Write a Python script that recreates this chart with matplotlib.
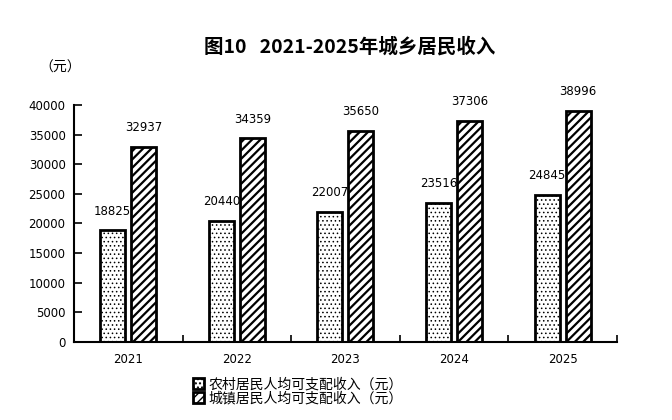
import matplotlib
matplotlib.use("Agg")
import matplotlib.pyplot as plt
import numpy as np

years = ["2021", "2022", "2023", "2024", "2025"]
rural = [18825, 20440, 22007, 23516, 24845]
urban = [32937, 34359, 35650, 37306, 38996]
legend_labels = ["农村居民人均可支配收入（元）", "城镇居民人均可支配收入（元）"]
title = "图10   2021-2025年城乡居民收入"
unit = "（元）"
yticks = list(range(0, 40001, 5000))

plt.rcParams['font.family'] = ['Noto Sans CJK SC', 'DejaVu Sans']

fig = plt.figure(figsize=(6.72, 4.2), dpi=100)
ax = fig.add_axes([0.110, 0.186, 0.808, 0.564])

x = np.arange(len(years))
w = 0.23
off = 0.143
with plt.rc_context({'hatch.linewidth': 0.6}):
    b1 = ax.bar(x - off, rural, w, facecolor='white', edgecolor='black', linewidth=2,
                hatch='....', label=legend_labels[0])
with plt.rc_context({'hatch.linewidth': 1.6}):
    b2 = ax.bar(x + off, urban, w, facecolor='white', edgecolor='black', linewidth=2,
                hatch='////', label=legend_labels[1])

for xi, v in zip(x - off, rural):
    ax.annotate(str(v), (xi, v), xytext=(0, 9), textcoords='offset points', ha='center',
                va='bottom', fontsize=8.5, family='DejaVu Sans')
for xi, v in zip(x + off, urban):
    ax.annotate(str(v), (xi, v), xytext=(0, 9), textcoords='offset points', ha='center',
                va='bottom', fontsize=8.5, family='DejaVu Sans')

ax.set_xlim(-0.5, len(years) - 0.5)
ax.set_ylim(0, 40000)
ax.set_yticks(yticks)
ax.set_yticklabels([str(t) for t in yticks], fontsize=8.5, family='DejaVu Sans')
ax.set_xticks(np.arange(-0.5, len(years), 1.0))
ax.set_xticklabels([])
ax.set_xticks(x, minor=True)
ax.set_xticklabels(years, minor=True, fontsize=8.5, family='DejaVu Sans')
ax.tick_params(axis='x', which='minor', length=0, pad=8)
ax.tick_params(axis='x', which='major', direction='in', length=5, width=1.2)
ax.tick_params(axis='y', direction='in', length=6, width=1.2, pad=6)
for s in ['top', 'right']:
    ax.spines[s].set_visible(False)
for s in ['left', 'bottom']:
    ax.spines[s].set_linewidth(1.5)

fig.text(0.52, 0.888, title, ha='center', va='center', fontsize=14, fontweight='bold')
fig.text(0.09, 0.84, unit, ha='center', va='center', fontsize=10)

leg = fig.legend(handles=[b1, b2], labels=legend_labels, loc='upper left',
                 bbox_to_anchor=(0.277, 0.118), frameon=False, fontsize=10,
                 handlelength=0.8, handleheight=0.8, handletextpad=0.3,
                 labelspacing=0.0, borderpad=0)

fig.savefig("out.png", dpi=100)
